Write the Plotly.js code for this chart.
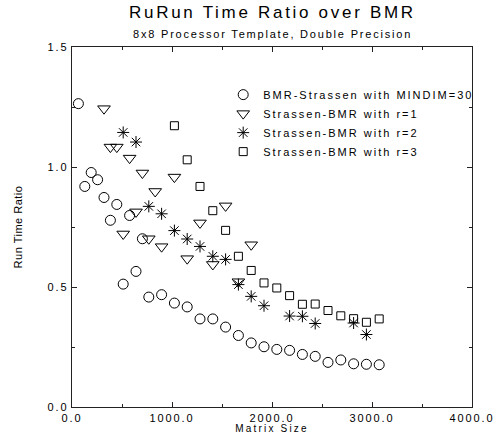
<!DOCTYPE html>
<html>
<head>
<meta charset="utf-8">
<script src="https://cdn.plot.ly/plotly-3.0.1.min.js"></script>
<style>
html,body{margin:0;padding:0;background:#fff;}
#chart{width:499px;height:440px;}
.gtitle{letter-spacing:2.7px;}
.annotation-text{letter-spacing:1.8px;}
.legendtext{letter-spacing:2px;}
.xtick text,.ytick text{letter-spacing:1.9px;}
.xtitle{letter-spacing:2.2px;}
.ytitle{letter-spacing:0.5px;}
</style>
</head>
<body>
<div id="chart"></div>
<script>
// Data
const seriesNames = [
  "BMR-Strassen with MINDIM=30",
  "Strassen-BMR with r=1",
  "Strassen-BMR with r=2",
  "Strassen-BMR with r=3"
];

const bmrX = [64, 128, 192, 256, 320, 384, 448, 512, 576, 640, 704, 768, 896, 1024, 1152, 1280, 1408, 1536, 1664, 1792, 1920, 2048, 2176, 2304, 2432, 2560, 2688, 2816, 2944, 3072];
const bmrY = [1.264, 0.919, 0.977, 0.947, 0.873, 0.778, 0.844, 0.512, 0.798, 0.565, 0.701, 0.458, 0.468, 0.433, 0.417, 0.367, 0.367, 0.333, 0.298, 0.267, 0.251, 0.240, 0.236, 0.219, 0.211, 0.186, 0.196, 0.180, 0.178, 0.176];

const r1X = [320, 384, 448, 512, 576, 640, 704, 768, 832, 896, 1024, 1152, 1280, 1408, 1536, 1664, 1792];
const r1Y = [1.243, 1.083, 1.083, 0.721, 1.037, 0.813, 0.975, 0.701, 0.898, 0.668, 0.958, 0.618, 0.767, 0.594, 0.838, 0.522, 0.676];

const r2X = [512, 640, 768, 896, 1024, 1152, 1280, 1408, 1536, 1664, 1792, 1920, 2176, 2304, 2432, 2816, 2944];
const r2Y = [1.144, 1.104, 0.836, 0.805, 0.735, 0.700, 0.669, 0.628, 0.615, 0.510, 0.461, 0.422, 0.379, 0.378, 0.348, 0.350, 0.302];

const r3X = [1024, 1152, 1280, 1408, 1536, 1664, 1792, 1920, 2048, 2176, 2304, 2432, 2560, 2688, 2816, 2944, 3072];
const r3Y = [1.172, 1.030, 0.919, 0.818, 0.736, 0.628, 0.569, 0.517, 0.496, 0.464, 0.428, 0.429, 0.402, 0.380, 0.368, 0.353, 0.367];

const xTickVals = [0, 1000, 2000, 3000, 4000];
const yTickVals = [0, 0.5, 1.0, 1.5];

const titleText = "RuRun Time Ratio over BMR";
const subtitleText = "8x8 Processor Template, Double Precision";
const xTitle = "Matrix Size";
const yTitle = "Run Time Ratio";

const FONT = "Liberation Sans, Arial, Helvetica, sans-serif";

function mk(x, y, name, symbol, size) {
  return {
    type: "scatter", mode: "markers", x: x, y: y, name: name,
    marker: {symbol: symbol, size: size, color: "black", line: {color: "black", width: 1}}
  };
}

const traces = [
  mk(bmrX, bmrY, seriesNames[0], "circle-open", 10),
  mk(r1X, r1Y, seriesNames[1], "triangle-down-open", 11),
  mk(r2X, r2Y, seriesNames[2], "asterisk-open", 10),
  mk(r3X, r3Y, seriesNames[3], "square-open", 8)
];

const axisCommon = {
  showgrid: false, zeroline: false, showline: true, linecolor: "#222", linewidth: 1.3,
  mirror: "allticks", ticks: "inside", ticklen: 5, tickwidth: 1, tickcolor: "#222",
  tickformat: ".1f", tickfont: {family: FONT, size: 11, color: "black"}
};

const layout = {
  width: 499, height: 440,
  margin: {l: 72, r: 27, t: 47, b: 33},
  paper_bgcolor: "white", plot_bgcolor: "white",
  font: {family: FONT, color: "black"},
  title: {text: titleText, x: 0.546, xanchor: "center", y: 0.972, yanchor: "middle", yref: "container",
          font: {family: FONT, size: 17, color: "black"}},
  showlegend: true,
  legend: {
    x: 0.378, y: 0.908, xanchor: "left", yanchor: "top",
    bgcolor: "rgba(0,0,0,0)", borderwidth: 0,
    font: {family: FONT, size: 11, color: "black"},
    tracegroupgap: 0
  },
  xaxis: Object.assign({}, axisCommon, {
    range: [0, 4000], tickvals: xTickVals,
    minor: {ticks: "inside", dtick: 500, tick0: 0, ticklen: 3, tickcolor: "#222", showgrid: false},
    title: {text: xTitle, font: {family: FONT, size: 10, color: "black"}, standoff: 2}
  }),
  yaxis: Object.assign({}, axisCommon, {
    range: [0, 1.5], tickvals: yTickVals,
    minor: {ticks: "inside", dtick: 0.25, tick0: 0, ticklen: 3, tickcolor: "#222", showgrid: false},
    title: {text: yTitle, font: {family: FONT, size: 11, color: "black"}, standoff: 22}
  }),
  annotations: [
    {text: subtitleText, xref: "paper", yref: "paper", x: 0.5, y: 1, yshift: 13, xanchor: "center", yanchor: "middle",
     showarrow: false, font: {family: FONT, size: 11, color: "black"}}
  ]
};

Plotly.newPlot("chart", traces, layout, {displayModeBar: false, staticPlot: true});
</script>
</body>
</html>
